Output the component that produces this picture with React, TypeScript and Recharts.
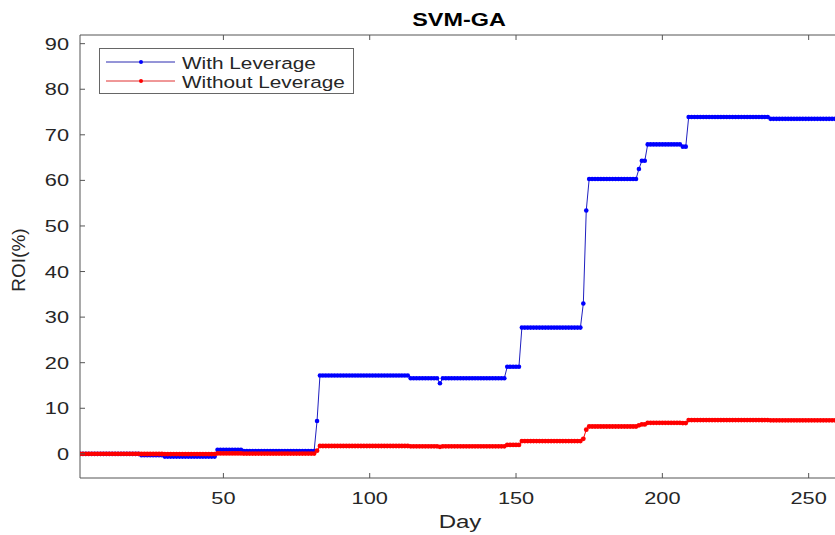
import { Legend, Line, LineChart, XAxis, YAxis } from 'recharts';

// ROI (%) per trading day, day 1..259
const withLeverage = [
  // days 1-21
  0, 0, 0, 0, 0, 0, 0, 0, 0, 0,
  0, 0, 0, 0, 0, 0, 0, 0, 0, 0,
  0,
  // days 22-29
  -0.3, -0.3, -0.3, -0.3, -0.3, -0.3, -0.3, -0.3,
  // days 30-47
  -0.6, -0.6, -0.6, -0.6, -0.6, -0.6, -0.6, -0.6, -0.6, -0.6,
  -0.6, -0.6, -0.6, -0.6, -0.6, -0.6, -0.6, -0.6,
  // days 48-56
  0.9, 0.9, 0.9, 0.9, 0.9, 0.9, 0.9, 0.9, 0.9,
  // days 57-81
  0.6, 0.6, 0.6, 0.6, 0.6, 0.6, 0.6, 0.6, 0.6, 0.6,
  0.6, 0.6, 0.6, 0.6, 0.6, 0.6, 0.6, 0.6, 0.6, 0.6,
  0.6, 0.6, 0.6, 0.6, 0.6,
  // day 82
  7.2,
  // days 83-113
  17.2, 17.2, 17.2, 17.2, 17.2, 17.2, 17.2, 17.2, 17.2, 17.2,
  17.2, 17.2, 17.2, 17.2, 17.2, 17.2, 17.2, 17.2, 17.2, 17.2,
  17.2, 17.2, 17.2, 17.2, 17.2, 17.2, 17.2, 17.2, 17.2, 17.2,
  17.2,
  // days 114-123
  16.6, 16.6, 16.6, 16.6, 16.6, 16.6, 16.6, 16.6, 16.6, 16.6,
  // day 124
  15.5,
  // days 125-146
  16.6, 16.6, 16.6, 16.6, 16.6, 16.6, 16.6, 16.6, 16.6, 16.6,
  16.6, 16.6, 16.6, 16.6, 16.6, 16.6, 16.6, 16.6, 16.6, 16.6,
  16.6, 16.6,
  // days 147-151
  19.1, 19.1, 19.1, 19.1, 19.1,
  // days 152-172
  27.7, 27.7, 27.7, 27.7, 27.7, 27.7, 27.7, 27.7, 27.7, 27.7,
  27.7, 27.7, 27.7, 27.7, 27.7, 27.7, 27.7, 27.7, 27.7, 27.7,
  27.7,
  // days 173-174
  33.0, 53.4,
  // days 175-191
  60.3, 60.3, 60.3, 60.3, 60.3, 60.3, 60.3, 60.3, 60.3, 60.3,
  60.3, 60.3, 60.3, 60.3, 60.3, 60.3, 60.3,
  // day 192
  62.5,
  // days 193-194
  64.3, 64.3,
  // days 195-206
  67.9, 67.9, 67.9, 67.9, 67.9, 67.9, 67.9, 67.9, 67.9, 67.9,
  67.9, 67.9,
  // days 207-208
  67.4, 67.4,
  // days 209-236
  73.9, 73.9, 73.9, 73.9, 73.9, 73.9, 73.9, 73.9, 73.9, 73.9,
  73.9, 73.9, 73.9, 73.9, 73.9, 73.9, 73.9, 73.9, 73.9, 73.9,
  73.9, 73.9, 73.9, 73.9, 73.9, 73.9, 73.9, 73.9,
  // days 237-259
  73.5, 73.5, 73.5, 73.5, 73.5, 73.5, 73.5, 73.5, 73.5, 73.5,
  73.5, 73.5, 73.5, 73.5, 73.5, 73.5, 73.5, 73.5, 73.5, 73.5,
  73.5, 73.5, 73.5,
];

const withoutLeverage = [
  // days 1-21
  0, 0, 0, 0, 0, 0, 0, 0, 0, 0,
  0, 0, 0, 0, 0, 0, 0, 0, 0, 0,
  0,
  // days 22-29
  -0.03, -0.03, -0.03, -0.03, -0.03, -0.03, -0.03, -0.03,
  // days 30-47
  -0.06, -0.06, -0.06, -0.06, -0.06, -0.06, -0.06, -0.06, -0.06, -0.06,
  -0.06, -0.06, -0.06, -0.06, -0.06, -0.06, -0.06, -0.06,
  // days 48-56
  0.09, 0.09, 0.09, 0.09, 0.09, 0.09, 0.09, 0.09, 0.09,
  // days 57-81
  0.06, 0.06, 0.06, 0.06, 0.06, 0.06, 0.06, 0.06, 0.06, 0.06,
  0.06, 0.06, 0.06, 0.06, 0.06, 0.06, 0.06, 0.06, 0.06, 0.06,
  0.06, 0.06, 0.06, 0.06, 0.06,
  // day 82
  0.7,
  // days 83-113
  1.72, 1.72, 1.72, 1.72, 1.72, 1.72, 1.72, 1.72, 1.72, 1.72,
  1.72, 1.72, 1.72, 1.72, 1.72, 1.72, 1.72, 1.72, 1.72, 1.72,
  1.72, 1.72, 1.72, 1.72, 1.72, 1.72, 1.72, 1.72, 1.72, 1.72,
  1.72,
  // days 114-123
  1.66, 1.66, 1.66, 1.66, 1.66, 1.66, 1.66, 1.66, 1.66, 1.66,
  // day 124
  1.55,
  // days 125-146
  1.66, 1.66, 1.66, 1.66, 1.66, 1.66, 1.66, 1.66, 1.66, 1.66,
  1.66, 1.66, 1.66, 1.66, 1.66, 1.66, 1.66, 1.66, 1.66, 1.66,
  1.66, 1.66,
  // days 147-151
  1.95, 1.95, 1.95, 1.95, 1.95,
  // days 152-172
  2.8, 2.8, 2.8, 2.8, 2.8, 2.8, 2.8, 2.8, 2.8, 2.8,
  2.8, 2.8, 2.8, 2.8, 2.8, 2.8, 2.8, 2.8, 2.8, 2.8,
  2.8,
  // days 173-174
  3.3, 5.3,
  // days 175-191
  6.0, 6.0, 6.0, 6.0, 6.0, 6.0, 6.0, 6.0, 6.0, 6.0,
  6.0, 6.0, 6.0, 6.0, 6.0, 6.0, 6.0,
  // day 192
  6.25,
  // days 193-194
  6.45, 6.45,
  // days 195-206
  6.8, 6.8, 6.8, 6.8, 6.8, 6.8, 6.8, 6.8, 6.8, 6.8,
  6.8, 6.8,
  // days 207-208
  6.75, 6.75,
  // days 209-236
  7.4, 7.4, 7.4, 7.4, 7.4, 7.4, 7.4, 7.4, 7.4, 7.4,
  7.4, 7.4, 7.4, 7.4, 7.4, 7.4, 7.4, 7.4, 7.4, 7.4,
  7.4, 7.4, 7.4, 7.4, 7.4, 7.4, 7.4, 7.4,
  // days 237-259
  7.35, 7.35, 7.35, 7.35, 7.35, 7.35, 7.35, 7.35, 7.35, 7.35,
  7.35, 7.35, 7.35, 7.35, 7.35, 7.35, 7.35, 7.35, 7.35, 7.35,
  7.35, 7.35, 7.35,
];

const dayTicks = [50, 100, 150, 200, 250];
const roiTicks = [0, 10, 20, 30, 40, 50, 60, 70, 80, 90];
const seriesNames = ['With Leverage', 'Without Leverage'];

const rows = withLeverage.map((v, i) => ({ day: i + 1, lev: v, nolev: withoutLeverage[i] }));

const FONT = '"Liberation Sans", Arial, Helvetica, sans-serif';
const TEXT = '#262626';
const AXIS = '#555555';
const STRETCH = 1.28; // the source image is stretched horizontally

function YTick({ x, y, payload }: any) {
  return (
    <g>
      <line x1={x} x2={x + 5} y1={y} y2={y} stroke={AXIS} />
      <text
        transform={`translate(${x - 11},${y + 6}) scale(${STRETCH},1)`}
        textAnchor="end"
        fontSize={17}
        fontFamily={FONT}
        fill={TEXT}
      >
        {payload.value}
      </text>
    </g>
  );
}

function XTick({ x, y, payload }: any) {
  return (
    <g>
      <line x1={x} x2={x} y1={y} y2={y - 5} stroke={AXIS} />
      <text
        transform={`translate(${x},${y + 26}) scale(${STRETCH},1)`}
        textAnchor="middle"
        fontSize={17}
        fontFamily={FONT}
        fill={TEXT}
      >
        {payload.value}
      </text>
    </g>
  );
}

function TopTick({ x, y }: any) {
  return <line x1={x} x2={x} y1={y} y2={y + 5} stroke={AXIS} />;
}

function LegendBox() {
  const items = [
    { name: seriesNames[0], color: '#0000ff', line: '#2a2ab0', y: 14 },
    { name: seriesNames[1], color: '#ff0000', line: '#e03030', y: 33 },
  ];
  return (
    <svg width={256} height={47} style={{ display: 'block' }}>
      <rect x={0.5} y={0.5} width={254} height={45} fill="#fff" stroke="#666" />
      {items.map((it) => (
        <g key={it.name}>
          <line x1={7} x2={76} y1={it.y} y2={it.y} stroke={it.line} strokeWidth={1} />
          <circle cx={42} cy={it.y} r={2} fill={it.color} />
          <text
            transform={`translate(83,${it.y + 7}) scale(1.26,1)`}
            fontSize={16.5}
            fontFamily={FONT}
            fill={TEXT}
          >
            {it.name}
          </text>
        </g>
      ))}
    </svg>
  );
}

export default function App() {
  return (
    <div style={{ position: 'absolute', left: 0, top: 0, width: 835, height: 535, background: '#fff' }}>
      <LineChart width={835} height={535} data={rows} margin={{ top: 34, right: 0, bottom: 17, left: 20 }}>
        <XAxis
          dataKey="day"
          type="number"
          domain={[1, 259]}
          ticks={dayTicks}
          allowDataOverflow
          height={40}
          tickSize={0}
          tickMargin={0}
          tickLine={false}
          axisLine={{ stroke: AXIS }}
          tick={<XTick />}
        />
        <XAxis
          xAxisId="top"
          orientation="top"
          dataKey="day"
          type="number"
          domain={[1, 259]}
          ticks={dayTicks}
          allowDataOverflow
          height={1}
          tickSize={0}
          tickMargin={0}
          tickLine={false}
          axisLine={{ stroke: AXIS }}
          tick={<TopTick />}
        />
        <YAxis
          type="number"
          domain={[-5.3, 91.9]}
          ticks={roiTicks}
          allowDataOverflow
          width={60}
          tickSize={0}
          tickMargin={0}
          tickLine={false}
          axisLine={{ stroke: AXIS }}
          tick={<YTick />}
        />
        <Legend
          layout="horizontal"
          verticalAlign="middle"
          align="center"
          wrapperStyle={{ top: 48, left: 99, width: 256, height: 47 }}
          content={() => <LegendBox />}
        />
        <Line
          dataKey="lev"
          name={seriesNames[0]}
          type="linear"
          stroke="#2020c0"
          strokeWidth={1}
          dot={{ r: 2.3, fill: '#0000ff', stroke: 'none' }}
          isAnimationActive={false}
        />
        <Line
          dataKey="nolev"
          name={seriesNames[1]}
          type="linear"
          stroke="#ff0000"
          strokeWidth={1}
          dot={{ r: 2.4, fill: '#ff0000', stroke: 'none' }}
          isAnimationActive={false}
        />
      </LineChart>
      <svg width={835} height={535} style={{ position: 'absolute', left: 0, top: 0, pointerEvents: 'none' }}>
        <text
          transform={`translate(459,26) scale(1.3,1)`}
          textAnchor="middle"
          fontSize={18}
          fontWeight="bold"
          fontFamily={FONT}
          fill="#000"
        >
          SVM-GA
        </text>
        <text
          transform={`translate(460,528) scale(1.3,1)`}
          textAnchor="middle"
          fontSize={18.5}
          fontFamily={FONT}
          fill={TEXT}
        >
          Day
        </text>
        <text
          transform="translate(25,260) rotate(-90)"
          textAnchor="middle"
          fontSize={19}
          fontFamily={FONT}
          fill={TEXT}
        >
          ROI(%)
        </text>
      </svg>
    </div>
  );
}
